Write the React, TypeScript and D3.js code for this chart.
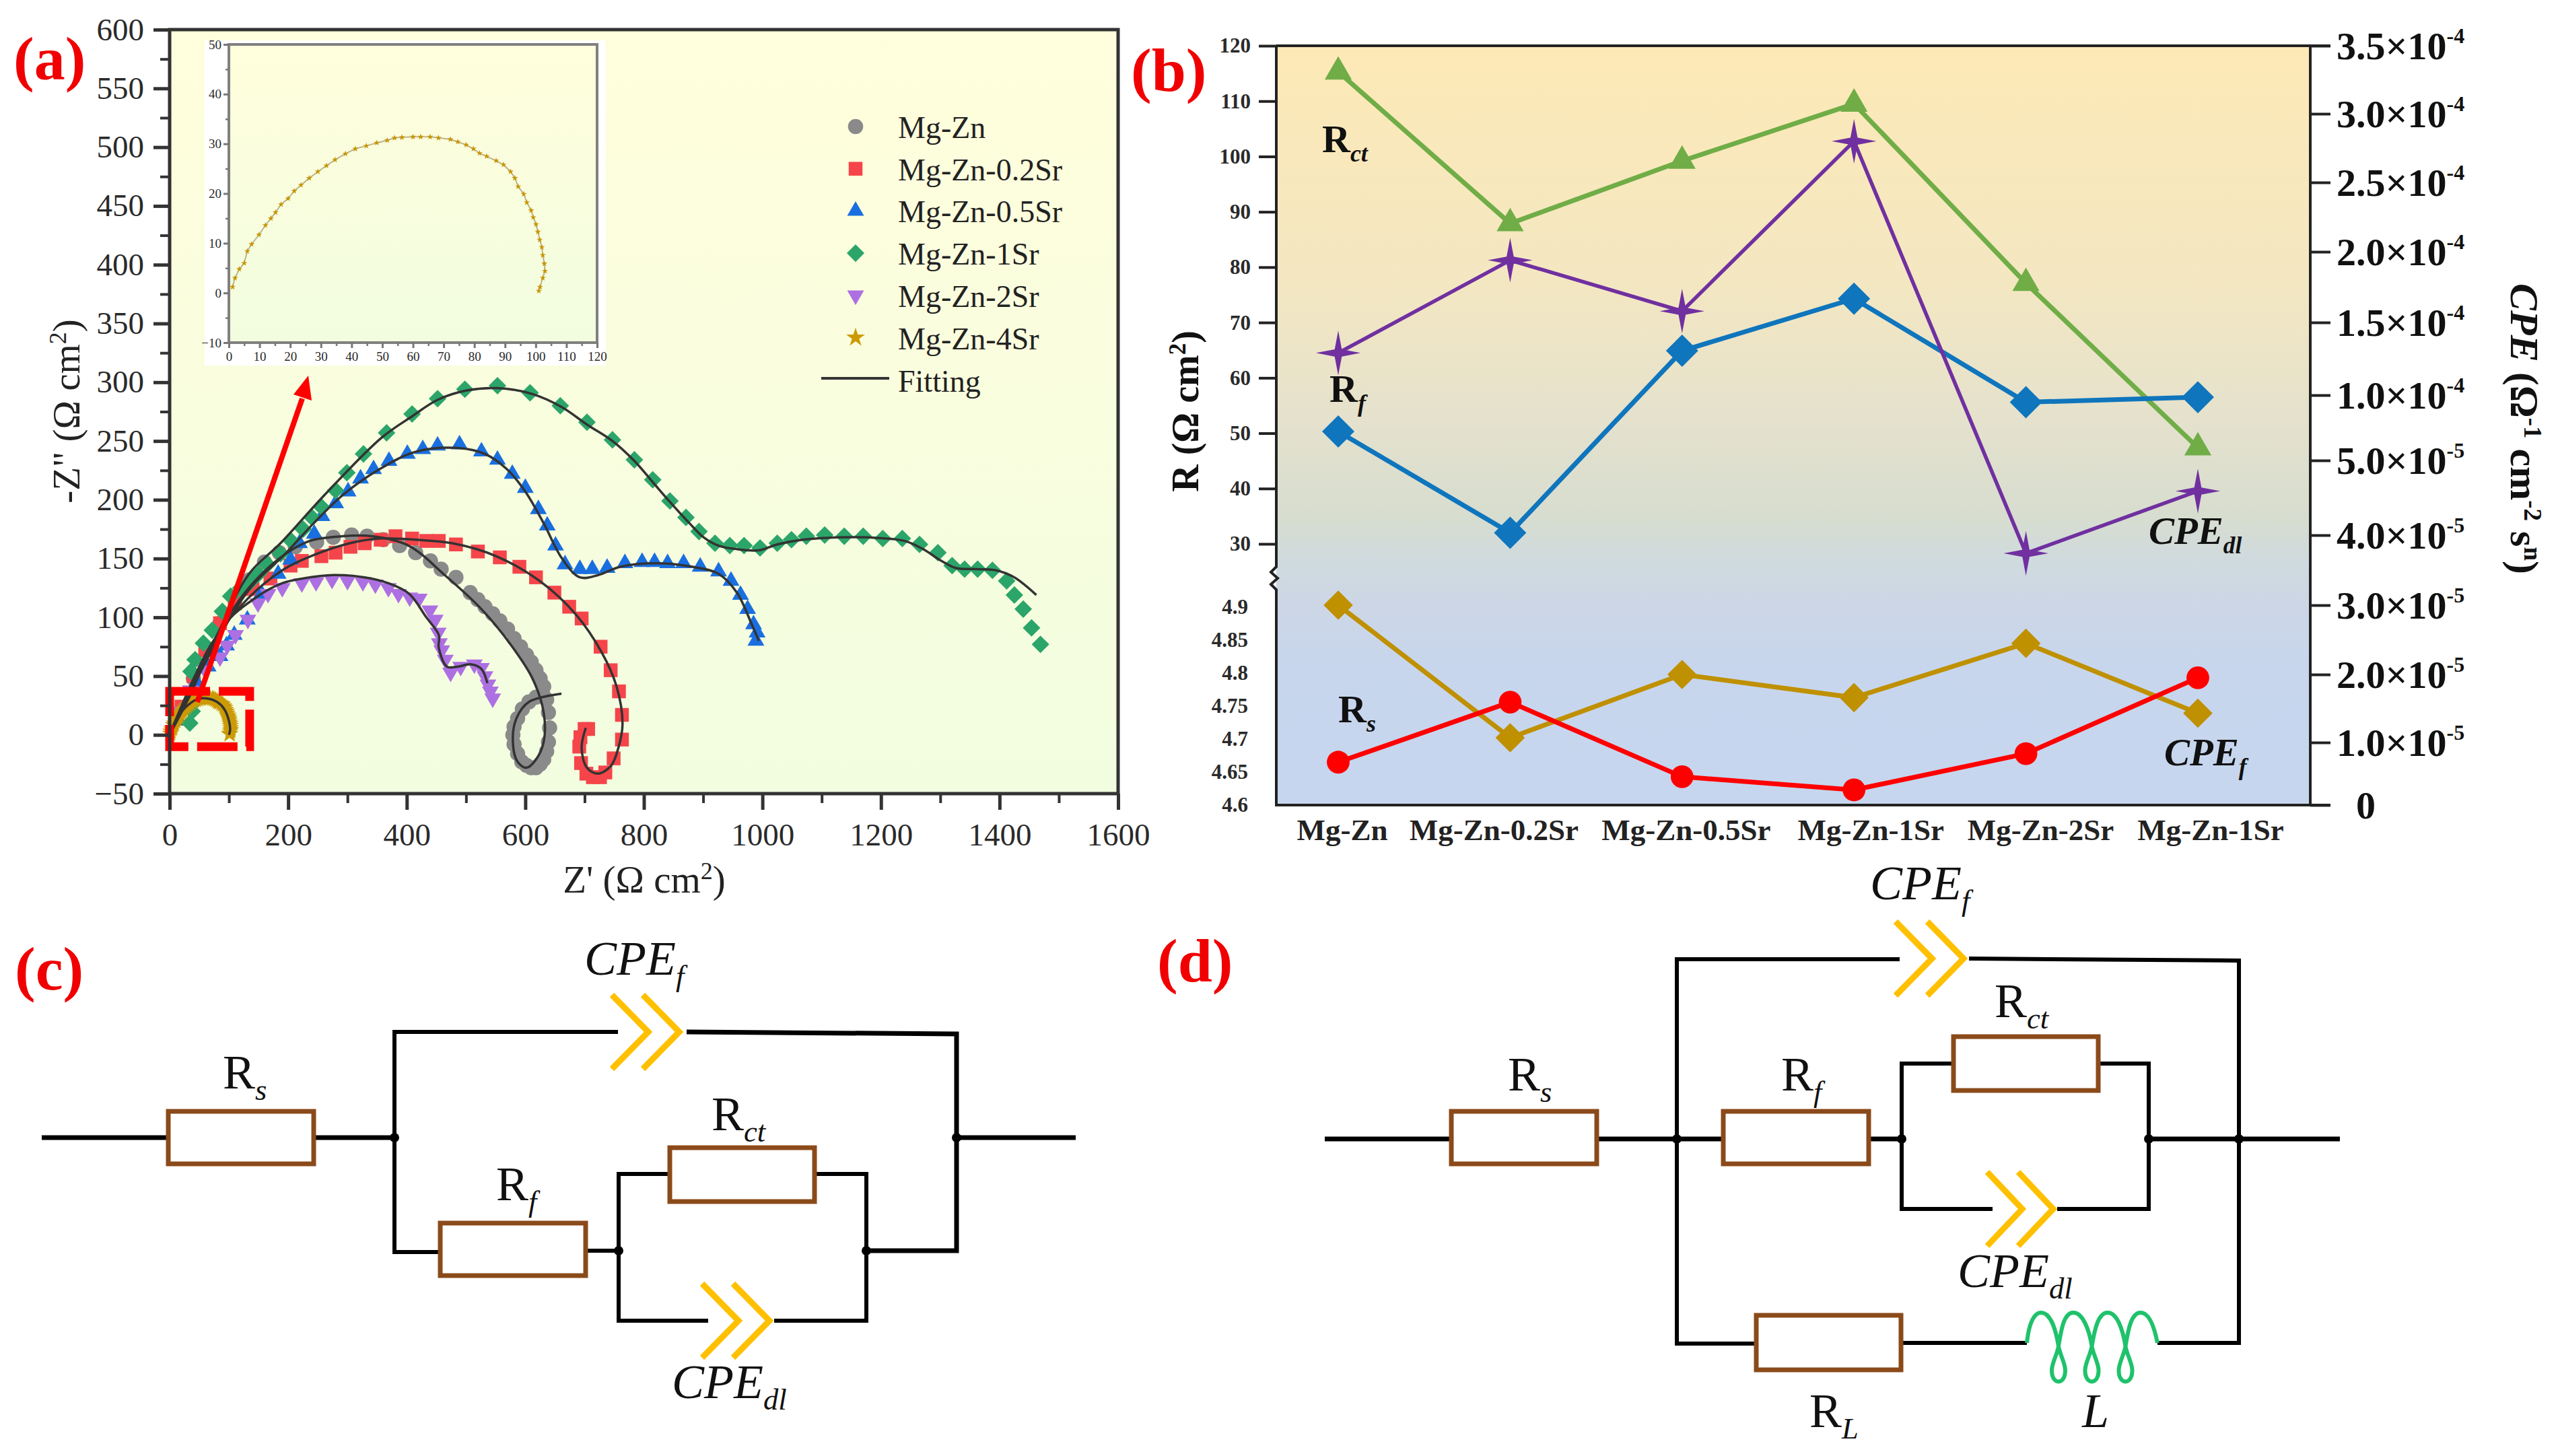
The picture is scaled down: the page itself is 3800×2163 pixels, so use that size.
import { useEffect, useRef } from 'react';
import * as d3 from 'd3';

type Pt = [number, number];

// Nyquist data, Z' and -Z''
const MG_ZN: Pt[] = [[20,22],[40,48],[62,72],[85,95],[110,115],[135,132],[160,147],[185,155],[212,160],[248,164],[276,168],[307,170],[333,169],[360,166],[388,161],[415,155],[440,148],[458,141],[483,134],[507,121],[520,115],[532,109],[545,103],[557,97],[570,90],[581,82],[592,75],[602,68],[610,62],[618,55],[625,48],[631,41],[636,30],[639,19],[641,6],[639,-6],[636,-14],[631,-21],[625,-25],[618,-28],[610,-28],[602,-26],[594,-23],[587,-16],[581,-8],[579,0],[581,7],[587,14],[595,22],[606,28],[618,32],[631,33]];
const MG_ZN_02: Pt[] = [[20,24],[40,50],[60,72],[85,95],[110,112],[140,124],[170,133],[204,144],[223,148],[256,152],[280,155],[305,160],[329,163],[356,166],[381,169],[409,167],[433,165],[454,165],[483,162],[520,156],[557,151],[590,143],[618,134],[649,121],[674,109],[695,99],[727,75],[744,55],[758,37],[763,17],[763,-4],[749,-20],[735,-32],[726,-36],[714,-36],[703,-33],[694,-24],[691,-10],[693,-2],[700,5],[706,5]];
const MG_ZN_05: Pt[] = [[16,12],[30,28],[45,45],[65,58],[85,67],[96,76],[109,85],[131,98],[155,120],[183,137],[204,149],[219,163],[244,171],[257,186],[280,197],[301,207],[322,218],[344,226],[370,233],[401,239],[427,243],[452,246],[489,247],[526,241],[553,234],[578,222],[600,210],[622,192],[637,178],[651,161],[667,145],[692,141],[713,141],[738,142],[768,146],[797,147],[818,147],[840,146],[867,146],[895,143],[926,139],[947,131],[963,119],[975,107],[985,94],[991,87],[989,80]];
const MG_ZN_1: Pt[] = [[34,10],[38,20],[42,28],[36,54],[43,64],[57,78],[72,89],[89,105],[103,118],[120,125],[136,130],[150,137],[165,145],[187,154],[205,165],[225,175],[240,185],[256,194],[280,208],[299,223],[327,239],[366,257],[409,273],[452,286],[498,294],[553,297],[608,291],[659,280],[704,266],[747,251],[784,234],[815,217],[844,199],[871,185],[893,173],[920,163],[945,161],[969,161],[996,159],[1025,163],[1049,166],[1074,169],[1105,170],[1138,169],[1170,169],[1203,167],[1236,167],[1265,162],[1296,155],[1320,144],[1341,141],[1363,141],[1388,140],[1412,131],[1425,119],[1440,107],[1454,91],[1469,77]];
const MG_ZN_2: Pt[] = [[18,20],[35,38],[60,55],[85,66],[97,76],[111,85],[132,98],[149,112],[166,120],[190,125],[223,129],[247,130],[274,132],[300,131],[326,130],[347,128],[369,125],[386,120],[405,117],[421,116],[439,106],[448,98],[453,87],[455,78],[459,72],[465,64],[474,53],[491,58],[514,60],[526,57],[532,50],[537,43],[541,37],[545,31]];
const MG_ZN_4: Pt[] = [[1.2,1.2],[2,3],[3.4,4.8],[5,6],[6,8.4],[7.4,9.8],[9.8,11.7],[11.9,13.6],[13.7,15],[15.2,16.2],[17,17.8],[19.3,19],[21.3,20.5],[23.5,21.7],[26.2,23.1],[29,24.4],[31.8,25.6],[34.6,26.8],[38,28],[41.2,29],[44.8,29.6],[48.2,30.2],[51.6,30.7],[54,31.2],[56.4,31.3],[60,31.4],[62.5,31.4],[65.6,31.4],[68.3,31.2],[72.2,30.9],[74.6,30.4],[77.3,29.8],[79.7,29],[81.7,28.1],[84,27.5],[87.1,26.6],[89.5,25.8],[91.8,24.4],[93.2,23.1],[94.3,21.4],[96.1,19.9],[97.1,18.2],[98.5,16.6],[99.2,15.2],[100.1,13.8],[100.7,12.3],[101.3,10.7],[102,9.2],[102.3,7.6],[102.8,5.9],[103,4.4],[102.3,3],[101.4,1.2],[101,0.4]];

// fitting curves
const FIT_MG_ZN: Pt[] = [[0,0],[58,63],[107,107],[144,131],[193,153],[236,165],[292,169],[341,169],[403,161],[464,136],[526,107],[575,77],[612,48],[631,19],[631,-6],[618,-21],[602,-28],[587,-23],[579,-6],[585,14],[606,28],[661,35]];
const FIT_MG_ZN_02: Pt[] = [[0,0],[70,77],[132,116],[193,141],[243,153],[304,163],[353,167],[415,166],[477,163],[551,152],[624,131],[686,102],[729,70],[754,41],[764,9],[757,-11],[745,-26],[723,-33],[704,-28],[695,-11],[702,6]];
const FIT_MG_ZN_05: Pt[] = [[0,0],[82,82],[138,126],[193,153],[243,180],[292,204],[354,226],[416,241],[489,244],[532,239],[569,226],[600,207],[631,180],[662,150],[692,134],[723,136],[760,143],[821,146],[882,143],[926,137],[957,121],[982,94],[994,80]];
const FIT_MG_ZN_1: Pt[] = [[0,0],[82,87],[134,137],[187,163],[263,205],[358,253],[409,271],[452,285],[501,293],[553,295],[612,290],[661,279],[704,264],[747,250],[784,233],[815,215],[846,197],[877,180],[901,168],[926,161],[957,158],[994,157],[1025,162],[1068,166],[1129,168],[1179,168],[1240,165],[1271,158],[1302,148],[1326,142],[1363,141],[1394,140],[1425,134],[1462,119]];
const FIT_MG_ZN_2: Pt[] = [[0,0],[33,32],[91,93],[149,118],[190,129],[224,133],[277,136],[329,134],[369,129],[404,120],[433,100],[454,85],[454,74],[468,58],[485,58],[509,60],[526,56],[536,44]];
const FIT_MG_ZN_4: Pt[] = [[0,0],[10,12],[26,23],[45,30],[62,31],[80,28],[92,22],[100,12],[102,4],[100,0]];

const LEGEND_LABELS = ['Mg-Zn', 'Mg-Zn-0.2Sr', 'Mg-Zn-0.5Sr', 'Mg-Zn-1Sr', 'Mg-Zn-2Sr', 'Mg-Zn-4Sr'];

// panel (b)
const CATEGORIES = ['Mg-Zn', 'Mg-Zn-0.2Sr', 'Mg-Zn-0.5Sr', 'Mg-Zn-1Sr', 'Mg-Zn-2Sr', 'Mg-Zn-1Sr'];
const R_CT = [115.3, 87.9, 99.2, 109.5, 77.1, 47.4];
const R_F = [50.3, 32, 64.9, 74.3, 55.6, 56.5];
const R_S = [4.665, 4.756, 4.643, 4.623, 4.678, 4.793];
const CPE_DL = [1.29e-4, 1.94e-4, 1.58e-4, 2.8e-4, 3.74e-5, 4.59e-5];
const CPE_F = [3.0e-5, 1.07e-5, 2.0e-5, 1.66e-5, 2.45e-5, 1.43e-5];
const R_UPPER_TICKS = [30, 40, 50, 60, 70, 80, 90, 100, 110, 120];
const R_LOWER_TICKS = [4.6, 4.65, 4.7, 4.75, 4.8, 4.85, 4.9];
const CPE_TICKS = [0, 1e-5, 2e-5, 3e-5, 4e-5, 5e-5, 1e-4, 1.5e-4, 2e-4, 2.5e-4, 3e-4, 3.5e-4];
const CPE_TICK_TEXT = ['0', '1.0', '2.0', '3.0', '4.0', '5.0', '1.0', '1.5', '2.0', '2.5', '3.0', '3.5'];
const CPE_TICK_EXP = ['', '-5', '-5', '-5', '-5', '-5', '-4', '-4', '-4', '-4', '-4', '-4'];
// the right axis is not linear, tick heights measured from the picture
const CPE_TICK_Y = [1196, 1103, 1002, 899, 795, 684, 587, 479, 374, 271, 169, 68];

const SERIF = '"Liberation Serif", serif';
const A = { left: 252, right: 1661, top: 44, bottom: 1179 };
const INSET = { left: 340, right: 887, top: 66, bottom: 509 };
const B = { left: 1896, right: 3432, top: 68, bottom: 1196 };

const xA = d3.scaleLinear().domain([0, 1600]).range([A.left, A.right]);
const yA = d3.scaleLinear().domain([-50, 600]).range([A.bottom, A.top]);
const xIn = d3.scaleLinear().domain([0, 120]).range([INSET.left, INSET.right]);
const yIn = d3.scaleLinear().domain([-10, 50]).range([INSET.bottom, INSET.top]);
const xB = d3.scalePoint<number>().domain(d3.range(6)).range([1988, 3265]);
const yUpper = d3.scaleLinear().domain([30, 120]).range([808, 68]);
const yLower = d3.scaleLinear().domain([4.6, 4.9]).range([1196, 902]);
const yCpe = d3.scaleLinear().domain(CPE_TICKS).range(CPE_TICK_Y);
const CATEGORY_DX = [6, -24, 6, 25, 22, 19];

const star4 = {
    draw(ctx: any, size: number) {
        const r = Math.sqrt(size);
        const q = r * 0.16;
        ctx.moveTo(0, -r);
        ctx.lineTo(q, -q);
        ctx.lineTo(r, 0);
        ctx.lineTo(q, q);
        ctx.lineTo(0, r);
        ctx.lineTo(-q, q);
        ctx.lineTo(-r, 0);
        ctx.lineTo(-q, -q);
        ctx.closePath();
    },
};

const sym = (type: any, size: number) => d3.symbol().type(type).size(size)() as string;

const nyquist = [
    { pts: MG_ZN, fit: FIT_MG_ZN, color: '#8a8a8a', d: sym(d3.symbolCircle, 400), rot: 0 },
    { pts: MG_ZN_02, fit: FIT_MG_ZN_02, color: '#f5454a', d: sym(d3.symbolSquare, 420), rot: 0 },
    { pts: MG_ZN_05, fit: FIT_MG_ZN_05, color: '#1a6fe0', d: sym(d3.symbolTriangle, 270), rot: 0 },
    { pts: MG_ZN_1, fit: FIT_MG_ZN_1, color: '#2ca56a', d: sym(d3.symbolSquare, 340), rot: 45 },
    { pts: MG_ZN_2, fit: FIT_MG_ZN_2, color: '#ad70e2', d: sym(d3.symbolTriangle, 270), rot: 180 },
    { pts: MG_ZN_4, fit: FIT_MG_ZN_4, color: '#cc9a06', d: sym(d3.symbolStar, 200), rot: 0 },
];

const fitLine = d3.line<Pt>().x((d) => xA(d[0])).y((d) => yA(d[1])).curve(d3.curveCatmullRom);

const bSeries = [
    { y: R_CT.map((v) => yUpper(v)), color: '#70ad47', d: sym(d3.symbolTriangle, 700), rot: 0 },
    { y: R_F.map((v) => yUpper(v)), color: '#0f75bd', d: sym(d3.symbolSquare, 1150), rot: 45 },
    { y: CPE_DL.map((v) => yCpe(v)), color: '#7030a0', d: sym(star4, 1100), rot: 0 },
    { y: CPE_F.map((v) => yCpe(v)), color: '#bf9000', d: sym(d3.symbolSquare, 950), rot: 45 },
    { y: R_S.map((v) => yLower(v)), color: '#ff0000', d: sym(d3.symbolCircle, 900), rot: 0 },
];

const Sub = ({ x, y, main, sub, size, mainItalic, weight, color = '#111' }: any) => (
    <text x={x} y={y} fontFamily={SERIF} fontSize={size} fontWeight={weight} fill={color} fontStyle={mainItalic ? 'italic' : 'normal'}>
        {main}
        <tspan fontSize={size * 0.62} fontStyle="italic" dy={size * 0.24}>{sub}</tspan>
    </text>
);

const Resistor = ({ x0, x1, y0, y1 }: any) => (
    <rect x={x0} y={y0} width={x1 - x0} height={y1 - y0} fill="#fff" stroke="#8b4a1a" strokeWidth={7} />
);

const Cpe = ({ x, y, gap, w, h }: any) => (
    <g fill="none" stroke="#ffc000" strokeWidth={9}>
        <path d={`M${x},${y - h}L${x + w},${y}L${x},${y + h}`} />
        <path d={`M${x + gap},${y - h}L${x + gap + w},${y}L${x + gap},${y + h}`} />
    </g>
);

const Wire = ({ d, w = 7 }: any) => <path d={d} fill="none" stroke="#000" strokeWidth={w} />;

const inductorPath = () => {
    const p = d3.path();
    const arches = [3032, 3080, 3131, 3180];
    p.moveTo(3011, 1995);
    p.bezierCurveTo(3014, 1965, 3022, 1950, arches[0], 1950);
    arches.forEach((a, i) => {
        if (i === arches.length - 1) {
            p.bezierCurveTo(a + 12, 1950, a + 20, 1970, 3205, 1995);
            return;
        }
        const next = arches[i + 1];
        const mid = (a + next) / 2 + 2;
        p.bezierCurveTo(a + 14, 1950, mid - 4, 1975, mid, 2000);
        p.bezierCurveTo(mid + 3, 2015, mid + 10, 2025, mid + 10, 2036);
        p.bezierCurveTo(mid + 10, 2058, mid - 10, 2058, mid - 10, 2036);
        p.bezierCurveTo(mid - 10, 2025, mid - 3, 2015, mid, 2000);
        p.bezierCurveTo(mid + 4, 1975, next - 14, 1950, next, 1950);
    });
    return p.toString();
};

export default function App() {
    const axesRef = useRef<SVGGElement>(null);

    useEffect(() => {
        const root = d3.select(axesRef.current);
        root.selectAll('*').remove();

        const style = (g: any, size: number, color: string, sw: number, weight = 'normal') => {
            g.selectAll('line').attr('stroke', color).attr('stroke-width', sw);
            g.selectAll('path.domain').remove();
            g.selectAll('text').attr('font-family', SERIF).attr('font-size', size).attr('font-weight', weight).attr('fill', '#2a2a2a');
        };

        // panel (a)
        root.append('g').attr('transform', `translate(0,${A.bottom})`)
            .call(d3.axisBottom(xA).tickValues(d3.range(100, 1600, 200)).tickSize(14).tickFormat(() => ''))
            .call(style, 47, '#333', 4);
        root.append('g').attr('transform', `translate(0,${A.bottom})`)
            .call(d3.axisBottom(xA).tickValues(d3.range(0, 1601, 200)).tickSize(24).tickPadding(20).tickFormat(d3.format('d')))
            .call(style, 47, '#333', 5);
        root.append('g').attr('transform', `translate(${A.left},0)`)
            .call(d3.axisLeft(yA).tickValues(d3.range(-25, 600, 50)).tickSize(14).tickFormat(() => ''))
            .call(style, 47, '#333', 4);
        root.append('g').attr('transform', `translate(${A.left},0)`)
            .call(d3.axisLeft(yA).tickValues(d3.range(-50, 601, 50)).tickSize(24).tickPadding(14).tickFormat(d3.format('d')))
            .call(style, 47, '#333', 5);

        // inset
        root.append('g').attr('transform', `translate(0,${INSET.bottom})`)
            .call(d3.axisBottom(xIn).tickValues(d3.range(5, 120, 10)).tickSize(5).tickFormat(() => ''))
            .call(style, 19, '#777', 2.5);
        root.append('g').attr('transform', `translate(0,${INSET.bottom})`)
            .call(d3.axisBottom(xIn).tickValues(d3.range(0, 121, 10)).tickSize(8).tickPadding(6).tickFormat(d3.format('d')))
            .call(style, 19, '#777', 3);
        root.append('g').attr('transform', `translate(${INSET.left},0)`)
            .call(d3.axisLeft(yIn).tickValues(d3.range(-5, 50, 10)).tickSize(5).tickFormat(() => ''))
            .call(style, 19, '#777', 2.5);
        root.append('g').attr('transform', `translate(${INSET.left},0)`)
            .call(d3.axisLeft(yIn).tickValues(d3.range(-10, 51, 10)).tickSize(8).tickPadding(3).tickFormat(d3.format('d')))
            .call(style, 19, '#777', 3);

        // panel (b), left axis in two pieces
        root.append('g').attr('transform', `translate(${B.left},0)`)
            .call(d3.axisLeft(yUpper).tickValues(R_UPPER_TICKS).tickSize(26).tickPadding(12).tickFormat(d3.format('d')))
            .call(style, 31, '#222', 4, 'bold');
        root.append('g').attr('transform', `translate(${B.left},0)`)
            .call(d3.axisLeft(yLower).tickValues(R_LOWER_TICKS).tickSize(0).tickPadding(42).tickFormat((d: any) => `${+d}`))
            .call(style, 31, '#222', 4, 'bold');
        root.append('g').attr('transform', `translate(${B.right},0)`)
            .call(d3.axisRight(yCpe).tickValues(CPE_TICKS).tickSize(30).tickFormat(() => ''))
            .call(style, 31, '#222', 4, 'bold');
    }, []);

    return (
        <svg width={3800} height={2163} style={{ position: 'absolute', left: 0, top: 0, background: '#fff' }}>
            <defs>
                <linearGradient id="bgA" x1="0" y1="0" x2="0" y2="1">
                    <stop offset="0" stopColor="#fffedc" />
                    <stop offset="1" stopColor="#f2fde0" />
                </linearGradient>
                <linearGradient id="bgB" x1="0" y1="0" x2="0" y2="1">
                    <stop offset="0" stopColor="#fde9b6" />
                    <stop offset="0.32" stopColor="#f3e7c2" />
                    <stop offset="0.5" stopColor="#e4e1cd" />
                    <stop offset="0.62" stopColor="#d7ddcf" />
                    <stop offset="0.68" stopColor="#cfdadf" />
                    <stop offset="0.74" stopColor="#ccd6e6" />
                    <stop offset="0.82" stopColor="#c7d6ed" />
                    <stop offset="1" stopColor="#c6d6ee" />
                </linearGradient>
            </defs>

            {/* panel (a) */}
            <rect x={A.left} y={A.top} width={A.right - A.left} height={A.bottom - A.top} fill="url(#bgA)" />
            {nyquist.map((s, i) => (
                <g key={i} fill={s.color}>
                    {s.pts.map((p, j) => (
                        <path key={j} d={s.d} transform={`translate(${xA(p[0])},${yA(p[1])}) rotate(${s.rot})`} />
                    ))}
                </g>
            ))}
            {nyquist.map((s, i) => (
                <path key={i} d={fitLine(s.fit) as string} fill="none" stroke="#333" strokeWidth={3.5} />
            ))}
            <rect x={xA(0)} y={yA(37)} width={xA(135) - xA(0)} height={yA(-10) - yA(37)} fill="none" stroke="#ff0000" strokeWidth={13} strokeDasharray="60 13" />
            <line x1={293} y1={1043} x2={449} y2={592} stroke="#ff0000" strokeWidth={8} />
            <path d="M458,558L436,586L463,595Z" fill="#ff0000" />
            <rect x={A.left} y={A.top} width={A.right - A.left} height={A.bottom - A.top} fill="none" stroke="#333" strokeWidth={5} />

            {/* inset */}
            <rect x={304} y={60} width={596} height={483} fill="#fff" />
            <rect x={INSET.left} y={INSET.top} width={INSET.right - INSET.left} height={INSET.bottom - INSET.top} fill="url(#bgA)" stroke="#808080" strokeWidth={4} />
            <path d={d3.line<Pt>().x((d) => xIn(d[0])).y((d) => yIn(d[1]))(MG_ZN_4) as string} fill="none" stroke="#bdb58e" strokeWidth={2} />
            {MG_ZN_4.map((p, i) => (
                <path key={i} d={sym(d3.symbolStar, 26)} transform={`translate(${xIn(p[0])},${yIn(p[1])})`} fill="#c89400" />
            ))}

            {/* panel (b) */}
            <rect x={B.left} y={B.top} width={B.right - B.left} height={B.bottom - B.top} fill="url(#bgB)" />
            {bSeries.map((s, i) => (
                <g key={i}>
                    <path d={d3.line<number>().x((_, j) => xB(j) as number).y((d) => d)(s.y) as string} fill="none" stroke={s.color} strokeWidth={i === 2 ? 5.5 : 7} />
                    {s.y.map((y, j) => (
                        <path key={j} d={s.d} transform={`translate(${xB(j)},${y}) rotate(${s.rot})`} fill={s.color} />
                    ))}
                </g>
            ))}
            <path d={`M${B.left},${B.top}H${B.right + 30}M${B.left},${B.top}V842l-8,8l10,9l-10,9l8,8V${B.bottom}H${B.right + 30}M${B.right},${B.top}V${B.bottom}`} fill="none" stroke="#222" strokeWidth={4} />

            <g ref={axesRef} />

            {/* legend */}
            {LEGEND_LABELS.map((label, i) => {
                const y = 190 + i * 62.7;
                return (
                    <g key={label}>
                        <path d={nyquist[i].d} transform={`translate(1271,${y - 2}) rotate(${nyquist[i].rot}) scale(${i === 5 ? 1.1 : 1})`} fill={nyquist[i].color} />
                        <text x={1334} y={y + 15} fontFamily={SERIF} fontSize={46} fill="#222">{label}</text>
                    </g>
                );
            })}
            <line x1={1220} x2={1321} y1={562} y2={562} stroke="#333" strokeWidth={4} />
            <text x={1334} y={582} fontFamily={SERIF} fontSize={46} fill="#222">Fitting</text>

            {/* axis titles */}
            <text x={957} y={1326} textAnchor="middle" fontFamily={SERIF} fontSize={57} fill="#222">
                Z' (Ω cm<tspan fontSize={36} dy={-20}>2</tspan><tspan dy={20}>)</tspan>
            </text>
            <text transform="translate(118,611) rotate(-90)" textAnchor="middle" fontFamily={SERIF} fontSize={57} fill="#222">
                -Z" (Ω cm<tspan fontSize={36} dy={-20}>2</tspan><tspan dy={20}>)</tspan>
            </text>
            <text transform="translate(1780,611) rotate(-90)" textAnchor="middle" fontFamily={SERIF} fontSize={56} fontWeight="bold" fill="#111">
                R (Ω cm<tspan fontSize={35} dy={-19}>2</tspan><tspan dy={19}>)</tspan>
            </text>
            <text transform="translate(3730,637) rotate(90)" textAnchor="middle" fontFamily={SERIF} fontSize={60} fontWeight="bold" fill="#111">
                <tspan fontStyle="italic">CPE</tspan> (Ω<tspan fontSize={37} dy={-20}>-1</tspan><tspan dy={20}> cm</tspan>
                <tspan fontSize={37} dy={-20}>-2</tspan><tspan dy={20}> s</tspan><tspan fontSize={37} dy={-20}>n</tspan><tspan dy={20}>)</tspan>
            </text>

            {/* right axis labels */}
            {CPE_TICKS.map((_, i) => (
                <text key={i} x={i === 0 ? 3500 : 3471} y={CPE_TICK_Y[i] + 20} fontFamily={SERIF} fontSize={58} fontWeight="bold" fill="#111">
                    {CPE_TICK_TEXT[i]}
                    {CPE_TICK_EXP[i] && (
                        <>
                            ×10<tspan fontSize={32} dy={-24}>{CPE_TICK_EXP[i]}</tspan>
                        </>
                    )}
                </text>
            ))}

            {/* category labels */}
            {CATEGORIES.map((c, i) => (
                <text key={i} x={(xB(i) as number) + CATEGORY_DX[i]} y={1248} textAnchor="middle" fontFamily={SERIF} fontSize={45} fontWeight="bold" fill="#222">{c}</text>
            ))}

            <Sub x={1964} y={226} main="R" sub="ct" size={58} weight="bold" />
            <Sub x={1975} y={597} main="R" sub="f" size={58} weight="bold" />
            <Sub x={1988} y={1073} main="R" sub="s" size={58} weight="bold" />
            <Sub x={3192} y={808} main="CPE" sub="dl" size={57} weight="bold" mainItalic />
            <Sub x={3215} y={1137} main="CPE" sub="f" size={57} weight="bold" mainItalic />

            {/* panel letters */}
            <g fontFamily={SERIF} fontSize={92} fontWeight="bold" fill="#f00000">
                <text x={20} y={118}>(a)</text>
                <text x={1680} y={135}>(b)</text>
                <text x={22} y={1470}>(c)</text>
                <text x={1719} y={1458}>(d)</text>
            </g>

            {/* circuit (c) */}
            <Wire d="M62,1690H586M1421,1690H1598" />
            <Wire d="M918,1533H586V1860H653M871,1858H919" w={6} />
            <Wire d="M1020,1533L1421,1536V1858H1287" w={7} />
            <Wire d="M993,1744H919V1962H1052M1150,1962H1287V1744H1212" w={6} />
            <circle cx={586} cy={1690} r={7} />
            <circle cx={1421} cy={1690} r={7} />
            <circle cx={919} cy={1858} r={7} />
            <circle cx={1287} cy={1858} r={7} />
            <Resistor x0={250} x1={466} y0={1651} y1={1729} />
            <Resistor x0={654} x1={870} y0={1817} y1={1895} />
            <Resistor x0={995} x1={1210} y0={1705} y1={1785} />
            <Cpe x={909} y={1533} gap={46} w={54} h={55} />
            <Cpe x={1043} y={1962} gap={46} w={54} h={55} />
            <Sub x={868} y={1448} main="CPE" sub="f" size={72} mainItalic />
            <Sub x={331} y={1617} main="R" sub="s" size={72} />
            <Sub x={737} y={1783} main="R" sub="f" size={72} />
            <Sub x={1057} y={1679} main="R" sub="ct" size={72} />
            <Sub x={998} y={2077} main="CPE" sub="dl" size={72} mainItalic />

            {/* circuit (d) */}
            <Wire d="M1968,1692H2825M3192,1692H3476" />
            <Wire d="M2822,1425H2491V1996H2607M2825,1995H3011M3205,1995H3326V1427L2925,1424" w={6} />
            <Wire d="M2900,1580H2825V1796H2960M3056,1796H3192V1580H3118" w={6} />
            <circle cx={2491} cy={1692} r={7} />
            <circle cx={2825} cy={1692} r={7} />
            <circle cx={3192} cy={1692} r={7} />
            <circle cx={3326} cy={1692} r={7} />
            <Resistor x0={2156} x1={2372} y0={1651} y1={1729} />
            <Resistor x0={2560} x1={2776} y0={1651} y1={1729} />
            <Resistor x0={2902} x1={3117} y0={1540} y1={1620} />
            <Resistor x0={2609} x1={2824} y0={1954} y1={2035} />
            <Cpe x={2816} y={1424} gap={47} w={54} h={55} />
            <Cpe x={2952} y={1796} gap={46} w={52} h={55} />
            <path d={inductorPath()} fill="none" stroke="#1fc26b" strokeWidth={6} />
            <Sub x={2778} y={1336} main="CPE" sub="f" size={72} mainItalic />
            <Sub x={2240} y={1620} main="R" sub="s" size={72} />
            <Sub x={2646} y={1620} main="R" sub="f" size={72} />
            <Sub x={2963} y={1511} main="R" sub="ct" size={72} />
            <Sub x={2908} y={1912} main="CPE" sub="dl" size={72} mainItalic />
            <Sub x={2688} y={2120} main="R" sub="L" size={72} />
            <text x={3093} y={2120} fontFamily={SERIF} fontSize={72} fontStyle="italic" fill="#111">L</text>
        </svg>
    );
}
